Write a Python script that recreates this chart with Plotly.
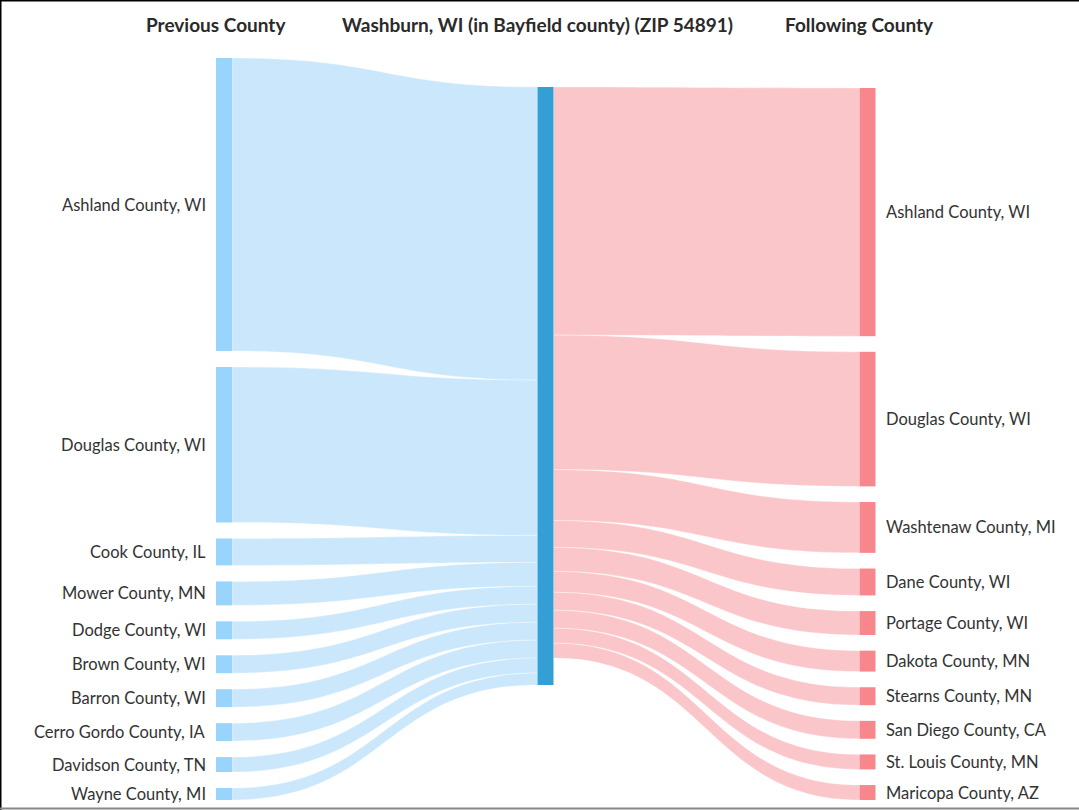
import plotly.graph_objects as go

# ---------------- data ----------------
prev_counties = ["Ashland County, WI", "Douglas County, WI", "Cook County, IL", "Mower County, MN",
                 "Dodge County, WI", "Brown County, WI", "Barron County, WI", "Cerro Gordo County, IA",
                 "Davidson County, TN", "Wayne County, MI"]
prev_values = [98, 52, 9, 8, 6, 6, 6, 6, 5, 4]

center_name = "Washburn, WI (in Bayfield county) (ZIP 54891)"

next_counties = ["Ashland County, WI", "Douglas County, WI", "Washtenaw County, MI", "Dane County, WI",
                 "Portage County, WI", "Dakota County, MN", "Stearns County, MN", "San Diego County, CA",
                 "St. Louis County, MN", "Maricopa County, AZ"]
next_values = [83, 45, 17, 9, 8, 7, 6, 6, 5, 5]

column_titles = ["Previous County", center_name, "Following County"]

# ---------------- layout parameters ----------------
W, HF = 1079, 810
top_px, bot_px = 58, 800
H = bot_px - top_px
pad = 16
thickness = 16
col_px = [224, 545.5, 867.5]
right_top = 29
ky = (H - (len(prev_values) - 1) * pad) / sum(prev_values)

c_prev_node = "#99d4fc"
c_prev_link = "rgba(160,212,250,0.55)"
c_center = "#349fd5"
c_next_node = "#f8878d"
c_next_link = "rgba(249,160,165,0.6)"
font_family = "Lato, 'Open Sans', sans-serif"


def stack(values, start, end):
    total = sum(values) * ky
    gap = (end - start - total) / (len(values) - 1)
    centers, y = [], start
    for v in values:
        h = v * ky
        centers.append(y + h / 2)
        y += h + gap
    return centers


left_c = stack(prev_values, 0, H)
right_c = stack(next_values, right_top + 1, H)
center_c = right_top + max(sum(prev_values), sum(next_values)) * ky / 2

n_prev = len(prev_counties)
n_next = len(next_counties)
center_idx = n_prev
next_idx0 = n_prev + 1

node_names = prev_counties + [center_name] + next_counties
node_x = [col_px[0] / W] * n_prev + [col_px[1] / W] + [col_px[2] / W] * n_next
node_y = [c / H for c in left_c] + [center_c / H] + [c / H for c in right_c]
node_colors = [c_prev_node] * n_prev + [c_center] + [c_next_node] * n_next

sources = list(range(n_prev)) + [center_idx] * n_next
targets = [center_idx] * n_prev + [next_idx0 + i for i in range(n_next)]
values = prev_values + next_values
link_colors = [c_prev_link] * n_prev + [c_next_link] * n_next

fig = go.Figure(go.Sankey(
    arrangement="fixed",
    domain=dict(x=[0, 1], y=[1 - bot_px / HF, 1 - top_px / HF]),
    node=dict(
        label=[""] * len(node_names),
        customdata=node_names,
        hovertemplate="%{customdata}<extra></extra>",
        x=node_x,
        y=node_y,
        pad=pad,
        thickness=thickness,
        color=node_colors,
        line=dict(width=0),
    ),
    link=dict(
        source=sources,
        target=targets,
        value=values,
        color=link_colors,
        line=dict(color="rgba(255,255,255,0.7)", width=0.5),
    ),
))

annotations = []
for name, c in zip(prev_counties, left_c):
    annotations.append(dict(
        x=(col_px[0] - thickness / 2 - 8) / W, y=1 - (top_px + c) / HF,
        xref="paper", yref="paper", text=name, showarrow=False,
        xanchor="right", yanchor="middle",
        font=dict(family=font_family, size=16.5, color="#333333")))
for name, c in zip(next_counties, right_c):
    annotations.append(dict(
        x=(col_px[2] + thickness / 2 + 9) / W, y=1 - (top_px + c) / HF,
        xref="paper", yref="paper", text=name, showarrow=False,
        xanchor="left", yanchor="middle",
        font=dict(family=font_family, size=16.5, color="#333333")))
for title, px in zip(column_titles, col_px):
    annotations.append(dict(
        x=(px - 8) / W, y=1 - 24 / HF, xref="paper", yref="paper",
        text="<b>" + title + "</b>", showarrow=False,
        xanchor="center", yanchor="middle",
        font=dict(family=font_family, size=19, color="#2a2a2a")))

shapes = [
    dict(type="line", xref="paper", yref="paper", x0=0, x1=1, y0=1, y1=1,
         line=dict(color="black", width=3)),
    dict(type="line", xref="paper", yref="paper", x0=0, x1=0, y0=0, y1=1,
         line=dict(color="black", width=3)),
    dict(type="line", xref="paper", yref="paper", x0=0, x1=1, y0=0.002, y1=0.002,
         line=dict(color="#888888", width=2)),
]

fig.update_layout(
    width=W, height=HF,
    margin=dict(l=0, r=0, t=0, b=0),
    paper_bgcolor="white",
    plot_bgcolor="white",
    font=dict(family=font_family, size=16, color="#333333"),
    annotations=annotations,
    shapes=shapes,
    showlegend=False,
)

fig.write_html("out.html",
               config={"displayModeBar": False},
               post_script="document.body.style.margin='0';document.body.style.overflow='hidden';")
